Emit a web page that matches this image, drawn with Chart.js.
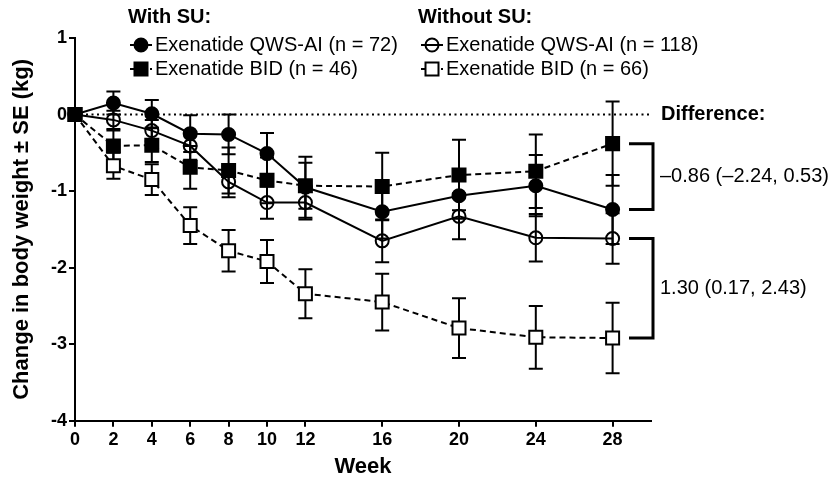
<!DOCTYPE html>
<html>
<head>
<meta charset="utf-8">
<script src="https://cdn.jsdelivr.net/npm/chart.js@4.4.1/dist/chart.umd.min.js"></script>
<style>
  html, body { margin: 0; padding: 0; background: #fff; }
  #wrap { width: 833px; height: 480px; }
</style>
</head>
<body>
<div id="wrap"><canvas id="chart" width="833" height="480"></canvas></div>
<script>
// weeks and tick labels
const weeks = [0, 2, 4, 6, 8, 10, 12, 16, 20, 24, 28];
const xTicks = [0, 2, 4, 6, 8, 10, 12, 16, 20, 24, 28];
const yTicks = [-4, -3, -2, -1, 0, 1];

// with SU
const qwsWithSU = [0, 0.15, 0.01, -0.25, -0.26, -0.51, -0.95, -1.27, -1.06, -0.93, -1.24];
const qwsWithSUSe = [0, 0.15, 0.18, 0.24, 0.26, 0.27, 0.40, 0.35, 0.30, 0.40, 0.45];
const bidWithSU = [0, -0.41, -0.40, -0.69, -0.73, -0.86, -0.93, -0.94, -0.79, -0.74, -0.38];
const bidWithSUSe = [0, 0.20, 0.22, 0.28, 0.30, 0.30, 0.30, 0.44, 0.46, 0.48, 0.55];

// without SU
const qwsNoSU = [0, -0.07, -0.21, -0.41, -0.88, -1.15, -1.15, -1.65, -1.33, -1.61, -1.62];
const qwsNoSUSe = [0, 0.12, 0.14, 0.18, 0.20, 0.21, 0.22, 0.28, 0.30, 0.31, 0.33];
const bidNoSU = [0, -0.67, -0.85, -1.45, -1.78, -1.92, -2.34, -2.45, -2.79, -2.91, -2.92];
const bidNoSUSe = [0, 0.17, 0.20, 0.24, 0.27, 0.28, 0.32, 0.37, 0.39, 0.41, 0.46];

const groupTitles = ['With SU:', 'Without SU:'];
const seriesNames = ['Exenatide QWS-AI (n = 72)', 'Exenatide BID (n = 46)',
                     'Exenatide QWS-AI (n = 118)', 'Exenatide BID (n = 66)'];
const differenceTitle = 'Difference:';
const differenceLabels = ['\u20130.86 (\u20132.24, 0.53)', '1.30 (0.17, 2.43)'];

const FONT = '"Liberation Sans", Arial, Helvetica, sans-serif';
const DASH = [6, 4];

function points(vals) {
  return weeks.map((w, i) => ({ x: w, y: vals[i] }));
}

function series(label, vals, se, opts) {
  return Object.assign({
    label,
    data: points(vals),
    se,
    borderColor: '#000',
    borderWidth: 2,
    pointRadius: 6.5,
    pointHoverRadius: 6.5,
    pointBorderColor: '#000',
    pointBorderWidth: 2,
    tension: 0,
    fill: false,
    clip: false,
  }, opts);
}

// marker drawing for the legend
function drawMarker(ctx, style, filled, x, y) {
  ctx.save();
  ctx.lineWidth = 2;
  ctx.strokeStyle = '#000';
  ctx.fillStyle = filled ? '#000' : '#fff';
  ctx.setLineDash([]);
  ctx.beginPath();
  if (style === 'circle') {
    ctx.arc(x, y, 6.5, 0, Math.PI * 2);
    if (filled) ctx.fill();
  } else {
    ctx.rect(x - 6.5, y - 6.5, 13, 13);
    ctx.fill();
  }
  ctx.stroke();
  ctx.restore();
}

function drawErrorBars(chart, onTop) {
  const { ctx, scales } = chart;
  ctx.save();
  ctx.strokeStyle = '#000';
  ctx.lineWidth = 2;
  ctx.setLineDash([]);
  chart.data.datasets.forEach((ds) => {
    if (!!ds.barsOnTop !== onTop) return;
    ds.data.forEach((p, i) => {
      const se = ds.se[i];
      if (!se) return;
      const x = scales.x.getPixelForValue(p.x);
      const hi = scales.y.getPixelForValue(p.y + se);
      const lo = scales.y.getPixelForValue(p.y - se);
      ctx.beginPath();
      ctx.moveTo(x, hi); ctx.lineTo(x, lo);
      ctx.moveTo(x - 7, hi); ctx.lineTo(x + 7, hi);
      ctx.moveTo(x - 7, lo); ctx.lineTo(x + 7, lo);
      ctx.stroke();
    });
  });
  ctx.restore();
}

const extras = {
  id: 'extras',
  beforeDatasetsDraw(chart) {
    const { ctx, chartArea, scales } = chart;
    const y0 = scales.y.getPixelForValue(0);
    // dotted reference line at zero
    ctx.save();
    ctx.strokeStyle = '#000';
    ctx.lineWidth = 2;
    ctx.setLineDash([2, 3.5]);
    ctx.beginPath();
    ctx.moveTo(chartArea.left, y0);
    ctx.lineTo(chartArea.right, y0);
    ctx.stroke();
    ctx.restore();
    drawErrorBars(chart, false);
  },
  afterDatasetsDraw(chart) {
    drawErrorBars(chart, true);
  },
  afterDraw(chart) {
    const { ctx, chartArea, scales } = chart;
    const y = scales.y;
    ctx.save();
    ctx.fillStyle = '#000';
    ctx.textBaseline = 'middle';
    ctx.textAlign = 'left';

    // legend
    ctx.font = 'bold 20px ' + FONT;
    ctx.fillText(groupTitles[0], 128, 17);
    ctx.fillText(groupTitles[1], 418, 17);
    const byLabel = (l) => chart.data.datasets.find((d) => d.label === l);
    const legendItems = [
      { ds: 'Exenatide QWS-AI with SU', x: 130, y: 45 },
      { ds: 'Exenatide BID with SU', x: 130, y: 69 },
      { ds: 'Exenatide QWS-AI without SU', x: 421, y: 45 },
      { ds: 'Exenatide BID without SU', x: 421, y: 69 },
    ];
    ctx.font = '20px ' + FONT;
    legendItems.forEach((it, i) => {
      const ds = byLabel(it.ds);
      ctx.save();
      ctx.strokeStyle = '#000';
      ctx.lineWidth = 2;
      ctx.setLineDash(ds.borderDash || []);
      ctx.beginPath();
      ctx.moveTo(it.x, it.y);
      ctx.lineTo(it.x + 22, it.y);
      ctx.stroke();
      ctx.restore();
      drawMarker(ctx, ds.pointStyle, ds.pointBackgroundColor === '#000', it.x + 11, it.y);
      ctx.fillText(seriesNames[i], it.x + 25, it.y);
    });

    // difference brackets
    ctx.font = 'bold 20px ' + FONT;
    ctx.fillText(differenceTitle, 661, y.getPixelForValue(0));
    const last = weeks.length - 1;
    const pairs = [[bidWithSU[last], qwsWithSU[last]], [qwsNoSU[last], bidNoSU[last]]];
    const bx = chartArea.right + 2;
    ctx.font = '20px ' + FONT;
    pairs.forEach((p, i) => {
      const top = y.getPixelForValue(p[0]);
      const bot = y.getPixelForValue(p[1]);
      ctx.save();
      ctx.lineWidth = 3;
      ctx.strokeStyle = '#000';
      ctx.beginPath();
      ctx.moveTo(bx - 24, top);
      ctx.lineTo(bx, top);
      ctx.lineTo(bx, bot);
      ctx.lineTo(bx - 24, bot);
      ctx.stroke();
      ctx.restore();
      ctx.fillText(differenceLabels[i], bx + 7, (top + bot) / 2);
    });
    ctx.restore();
  },
};

new Chart(document.getElementById('chart'), {
  type: 'line',
  data: {
    datasets: [
      series('Exenatide BID with SU', bidWithSU, bidWithSUSe, {
        borderDash: DASH, pointStyle: 'rect', pointRadius: 9.2, pointHoverRadius: 9.2,
        pointBackgroundColor: '#000',
      }),
      series('Exenatide QWS-AI with SU', qwsWithSU, qwsWithSUSe, {
        pointStyle: 'circle', pointBackgroundColor: '#000',
      }),
      series('Exenatide QWS-AI without SU', qwsNoSU, qwsNoSUSe, {
        pointStyle: 'circle', pointBackgroundColor: 'rgba(255,255,255,0)', barsOnTop: true,
      }),
      series('Exenatide BID without SU', bidNoSU, bidNoSUSe, {
        borderDash: DASH, pointStyle: 'rect', pointRadius: 9.2, pointHoverRadius: 9.2,
        pointBackgroundColor: '#fff',
      }),
    ],
  },
  options: {
    responsive: false,
    animation: false,
    devicePixelRatio: 1,
    layout: { padding: { left: 0, right: 182, top: 38, bottom: 0 } },
    plugins: { legend: { display: false }, tooltip: { enabled: false } },
    scales: {
      x: {
        type: 'linear',
        min: 0,
        max: 30,
        afterFit(scale) { scale.height = 59.3; },
        afterBuildTicks(scale) { scale.ticks = xTicks.map((v) => ({ value: v })); },
        grid: {
          drawOnChartArea: false, drawTicks: true, tickLength: 6,
          color: '#000', lineWidth: 2, tickWidth: 2,
        },
        border: { display: true, color: '#000', width: 2 },
        ticks: {
          color: '#000', padding: 3, maxRotation: 0, autoSkip: false,
          font: { family: FONT, size: 18, weight: 'bold' },
        },
        title: {
          display: true, text: 'Week', color: '#000',
          font: { family: FONT, size: 22, weight: 'bold' },
          padding: { top: 0, bottom: 0 },
        },
      },
      y: {
        min: -4,
        max: 1,
        afterFit(scale) { scale.width = 75; },
        afterBuildTicks(scale) { scale.ticks = yTicks.map((v) => ({ value: v })); },
        grid: {
          drawOnChartArea: false, drawTicks: true, tickLength: 6,
          color: '#000', lineWidth: 2, tickWidth: 2,
        },
        border: { display: true, color: '#000', width: 2 },
        ticks: {
          color: '#000', padding: 2,
          font: { family: FONT, size: 18, weight: 'bold' },
          callback: (v) => String(v),
        },
        title: {
          display: true, text: 'Change in body weight \u00b1 SE (kg)', color: '#000',
          font: { family: FONT, size: 22, weight: 'bold' },
          padding: { top: 9, bottom: 0 },
        },
      },
    },
  },
  plugins: [extras],
});
</script>
</body>
</html>
